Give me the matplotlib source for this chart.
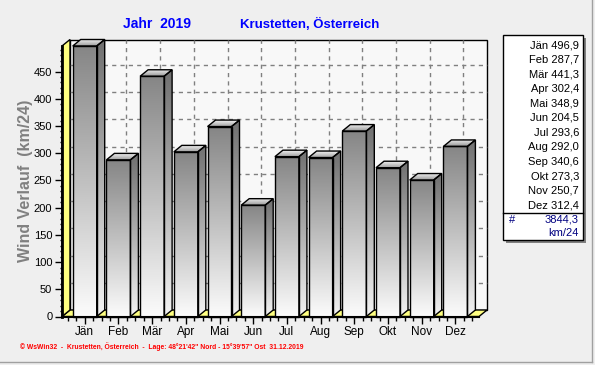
import numpy as np
import matplotlib
matplotlib.use("Agg")
import matplotlib.pyplot as plt
from matplotlib.patches import Polygon, Rectangle
from matplotlib.lines import Line2D
from matplotlib.colors import LinearSegmentedColormap
from matplotlib.ticker import MultipleLocator

plt.rcParams["font.family"] = ["Liberation Sans", "DejaVu Sans"]

# --------------------------------------------------
# Data
# --------------------------------------------------

months = ["Jän", "Feb", "Mär", "Apr", "Mai", "Jun",
          "Jul", "Aug", "Sep", "Okt", "Nov", "Dez"]
wind = [496.9, 287.7, 441.3, 302.4, 348.9, 204.5,
        293.6, 292.0, 340.6, 273.3, 250.7, 312.4]
yticks = [0, 50, 100, 150, 200, 250, 300, 350, 400, 450]

title_year = "Jahr  2019"
title_place = "Krustetten, Österreich"
ylabel = "Wind Verlauf  (km/24)"
unit = "km/24"
footer = ("© WsWin32  -  Krustetten, Österreich  -  Lage: 48°21'42\" Nord"
          " - 15°39'57\" Ost  31.12.2019")


def de(v):
    return f"{v:.1f}".replace(".", ",")


W, H = 595, 365
fig = plt.figure(figsize=(W / 100, H / 100), dpi=100)
fig.patch.set_facecolor("#efefef")

# front plane of the pseudo-3D box (pixels)
left, right, top, bottom = 62, 479, 46, 316.5
ax = fig.add_axes([left / W, 1 - bottom / H,
                   (right - left) / W, (bottom - top) / H])
ax.patch.set_visible(False)

x = np.arange(len(months))
ymax = max(wind)
xmin, xmax = -0.674, 11.70

# depth of the box in data units (8 px right, 6.5 px up)
dx = 8 / ((right - left) / (xmax - xmin))
dy = 6.5 / ((bottom - top) / ymax)

# back wall + grid
ax.add_patch(Rectangle((xmin + dx, dy), xmax - xmin, ymax,
                       fc="#f8f8f8", ec="black", lw=1,
                       clip_on=False, zorder=0))
for yv in yticks[1:]:
    ax.plot([xmin + dx, xmax + dx], [yv + dy, yv + dy], color="#808080",
            ls=(0, (3, 3)), lw=1, clip_on=False, zorder=1)
for xv in x:
    ax.plot([xv + dx, xv + dx], [dy, ymax + dy], color="#808080",
            ls=(0, (3, 3)), lw=1, clip_on=False, zorder=1)

# yellow floor and left wall
yellow = "#ffff80"
ax.add_patch(Polygon([(xmin, 0), (xmax, 0), (xmax + dx, dy), (xmin + dx, dy)],
                     closed=True, fc=yellow, ec="black", lw=1,
                     clip_on=False, zorder=2))
ax.add_patch(Polygon([(xmin, 0), (xmin + dx, dy), (xmin + dx, ymax + dy),
                      (xmin, ymax)],
                     closed=True, fc=yellow, ec="black", lw=1,
                     clip_on=False, zorder=2))

# --------------------------------------------------
# Bars
# --------------------------------------------------

front_cmap = LinearSegmentedColormap.from_list("front", ["#fcfcfc", "#c0c0c0", "#868686"])
side_cmap = LinearSegmentedColormap.from_list("side", ["#f4f4f4", "#b0b0b0", "#707070"])
top_cmap = LinearSegmentedColormap.from_list("top", ["#9a9a9a", "#f4f4f4"])
grad = np.linspace(0, 1, 256).reshape(-1, 1)

bw = 0.712


def shaded(poly, extent, cmap, z):
    patch = Polygon(poly, closed=True, fc="none", ec="black", lw=1,
                    clip_on=False, zorder=z + 0.5)
    ax.add_patch(patch)
    im = ax.imshow(grad, extent=extent, origin="lower", cmap=cmap,
                   aspect="auto", interpolation="bilinear", zorder=z)
    im.set_clip_path(patch)
    im.set_clip_box(fig.bbox)


for xi, v in zip(x, wind):
    x0, x1 = xi - bw / 2, xi + bw / 2
    shaded([(x0, 0), (x1, 0), (x1, v), (x0, v)],
           (x0, x1, 0, v), front_cmap, 3)
    shaded([(x1, 0), (x1 + dx, dy), (x1 + dx, v + dy), (x1, v)],
           (x1, x1 + dx, 0, v + dy), side_cmap, 3)
    shaded([(x0, v), (x1, v), (x1 + dx, v + dy), (x0 + dx, v + dy)],
           (x0, x1 + dx, v, v + dy), top_cmap, 3)

ax.set_xlim(xmin, xmax)
ax.set_ylim(0, ymax)

# --------------------------------------------------
# Axes
# --------------------------------------------------

for s in ["top", "right"]:
    ax.spines[s].set_visible(False)
ax.spines["left"].set_linewidth(2)
ax.spines["bottom"].set_linewidth(1.5)
ax.spines["left"].set_zorder(6)
ax.spines["bottom"].set_zorder(6)

ax.set_yticks(yticks)
ax.yaxis.set_minor_locator(MultipleLocator(10))
ax.set_xticks(x)
ax.set_xticklabels(months)
ax.xaxis.set_minor_locator(MultipleLocator(0.25))

ax.tick_params(axis="both", which="major", direction="out", length=5,
               width=1, pad=2, colors="black")
ax.tick_params(axis="x", which="major", labelsize=8.5)
ax.tick_params(axis="y", which="major", labelsize=8)
ax.tick_params(axis="y", which="minor", direction="inout", length=3, width=1)
ax.tick_params(axis="x", which="minor", direction="out", length=3, width=1)

# --------------------------------------------------
# Texts
# --------------------------------------------------

fig.text(157 / W, 1 - 24 / H, title_year, color="#0000ff", fontsize=10,
         fontweight="bold", ha="center", va="center")
fig.text(310 / W, 1 - 24 / H, title_place, color="#0000ff", fontsize=9.5,
         fontweight="bold", ha="center", va="center")
fig.text(26 / W, 1 - 181 / H, ylabel, color="#808080", fontsize=11.5,
         fontweight="bold", rotation=90, ha="center", va="center")
fig.text(20 / W, 1 - 347 / H, footer, color="#ff0000", fontsize=4.9,
         fontweight="bold", ha="left", va="center")

# legend box with monthly values
bx0, bx1, by0, by1 = 503, 583, 35, 240
fig.patches.append(Rectangle(((bx0 + 3) / W, 1 - (by1 + 3) / H),
                             (bx1 - bx0) / W, (by1 - by0) / H,
                             transform=fig.transFigure, fc="#808080", ec="none"))
fig.patches.append(Rectangle((bx0 / W, 1 - by1 / H), (bx1 - bx0) / W,
                             (by1 - by0) / H, transform=fig.transFigure,
                             fc="white", ec="black", lw=1))
for k, (m, v) in enumerate(zip(months, wind)):
    fig.text((bx1 - 4) / W, 1 - (45 + 14.6 * k) / H, f"{m} {de(v)}",
             fontsize=8, ha="right", va="center", color="black")
fig.lines.append(Line2D([bx0 / W, bx1 / W], [1 - 213 / H, 1 - 213 / H],
                        transform=fig.transFigure, color="black", lw=1))
fig.text((bx0 + 6) / W, 1 - 220 / H, "#", fontsize=8, ha="left",
         va="center", color="#000080")
fig.text((bx1 - 4) / W, 1 - 220 / H, de(sum(wind)), fontsize=8,
         ha="right", va="center", color="#000080")
fig.text((bx1 - 4) / W, 1 - 233 / H, unit, fontsize=8,
         ha="right", va="center", color="#000080")

# outer frame
fig.lines.append(Line2D([0, 592 / W], [1 - 362 / H, 1 - 362 / H],
                        transform=fig.transFigure, color="#a0a0a0", lw=1))
fig.lines.append(Line2D([592 / W, 592 / W], [1 - 362 / H, 1],
                        transform=fig.transFigure, color="#a0a0a0", lw=1))

fig.savefig("out.png", dpi=100, facecolor=fig.get_facecolor())
